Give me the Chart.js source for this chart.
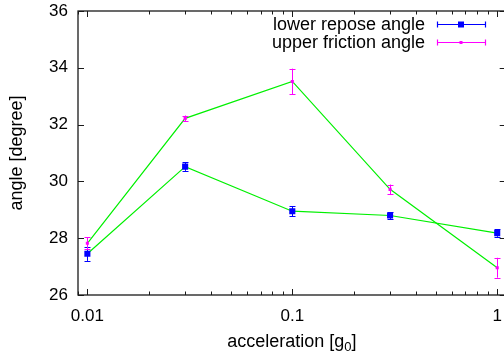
<!DOCTYPE html>
<html>
<head>
<meta charset="utf-8">
<script src="https://cdn.jsdelivr.net/npm/chart.js@4/dist/chart.umd.min.js"></script>
<style>
html,body{margin:0;padding:0;background:#fff;overflow:hidden;}
#wrap{width:510px;height:352px;}
</style>
</head>
<body>
<div id="wrap"><canvas id="c" width="510" height="352"></canvas></div>
<script>
// ---- data ----
const accel = [0.01, 0.03, 0.1, 0.3, 1];
const lowerRepose = [27.45, 30.52, 28.95, 28.8, 28.18];
const lowerReposeErr = [0.25, 0.15, 0.18, 0.12, 0.13];
const upperFriction = [27.82, 32.22, 33.52, 29.72, 26.96];
const upperFrictionErr = [0.21, 0.1, 0.45, 0.17, 0.35];
const xTickLabels = [0.01, 0.1, 1];
const yTickValues = [26, 28, 30, 32, 34, 36];
const seriesNames = ['lower repose angle', 'upper friction angle'];
const xTitle = 'acceleration [g';
const xTitleSub = '0';
const yTitle = 'angle [degree]';

const FONT = '"Liberation Sans", Arial, Helvetica, sans-serif';
const BLUE = '#0000ff', MAGENTA = '#ff00ff', GREEN = '#00f000';

const toXY = (ys) => accel.map((x, i) => ({x: x, y: ys[i]}));

const errPlugin = {
  id: 'gnu',
  beforeDatasetsDraw(chart) {
    const {ctx, chartArea: a, scales: {x, y}} = chart;
    ctx.save();
    ctx.strokeStyle = '#1a1a1a';
    ctx.lineWidth = 1.3;
    ctx.strokeRect(a.left, a.top, a.right - a.left, a.bottom - a.top);
    ctx.lineWidth = 1;
    ctx.beginPath();
    const decs = [0.001, 0.01, 0.1, 1];
    decs.forEach(d => {
      for (let k = 1; k <= 9; k++) {
        const v = d * k;
        if (v <= x.min || v >= x.max) continue;
        const px = Math.round(x.getPixelForValue(v)) + 0.5;
        const len = (k === 1) ? 6 : 3.5;
        ctx.moveTo(px, a.bottom); ctx.lineTo(px, a.bottom - len);
        ctx.moveTo(px, a.top); ctx.lineTo(px, a.top + len);
      }
    });
    yTickValues.forEach(v => {
      const py = Math.round(y.getPixelForValue(v)) + 0.5;
      ctx.moveTo(a.left, py); ctx.lineTo(a.left + 6, py);
      ctx.moveTo(a.right, py); ctx.lineTo(a.right - 6, py);
    });
    ctx.stroke();
    ctx.restore();
  },
  afterDatasetsDraw(chart) {
    const {ctx, scales: {x, y}} = chart;
    ctx.save();
    const drawErr = (vals, errs, color) => {
      ctx.strokeStyle = color;
      ctx.lineWidth = 1;
      ctx.beginPath();
      accel.forEach((xv, i) => {
        const px = Math.round(x.getPixelForValue(xv)) + 0.5;
        const y1 = y.getPixelForValue(vals[i] - errs[i]);
        const y2 = y.getPixelForValue(vals[i] + errs[i]);
        ctx.moveTo(px, y1); ctx.lineTo(px, y2);
        ctx.moveTo(px - 3, Math.round(y1) + 0.5); ctx.lineTo(px + 3, Math.round(y1) + 0.5);
        ctx.moveTo(px - 3, Math.round(y2) + 0.5); ctx.lineTo(px + 3, Math.round(y2) + 0.5);
      });
      ctx.stroke();
    };
    drawErr(lowerRepose, lowerReposeErr, BLUE);
    drawErr(upperFriction, upperFrictionErr, MAGENTA);
    ctx.restore();
  },
  afterDraw(chart) {
    const {ctx, chartArea: a} = chart;
    ctx.save();
    ctx.font = '18px ' + FONT;
    ctx.textAlign = 'right';
    ctx.textBaseline = 'middle';
    const rows = [
      {name: seriesNames[0], color: BLUE, size: 6, yy: 24},
      {name: seriesNames[1], color: MAGENTA, size: 3, yy: 42}
    ];
    rows.forEach(r => {
      ctx.fillStyle = '#000';
      ctx.fillText(r.name, 425, r.yy + 1);
      ctx.strokeStyle = r.color;
      ctx.lineWidth = 1.2;
      ctx.beginPath();
      ctx.moveTo(437, r.yy + 0.5); ctx.lineTo(485, r.yy + 0.5);
      ctx.moveTo(437.5, r.yy - 2.5); ctx.lineTo(437.5, r.yy + 3.5);
      ctx.moveTo(485.5, r.yy - 2.5); ctx.lineTo(485.5, r.yy + 3.5);
      ctx.stroke();
      ctx.fillStyle = r.color;
      ctx.fillRect(461 - r.size / 2, r.yy + 0.5 - r.size / 2, r.size, r.size);
    });
    ctx.fillStyle = '#000';
    ctx.textAlign = 'left';
    ctx.textBaseline = 'alphabetic';
    ctx.font = '18px ' + FONT;
    const w1 = ctx.measureText(xTitle).width;
    ctx.font = '13px ' + FONT;
    const w2 = ctx.measureText(xTitleSub).width;
    ctx.font = '18px ' + FONT;
    const w3 = ctx.measureText(']').width;
    const cx = (a.left + a.right) / 2;
    let sx = cx - (w1 + w2 + w3) / 2;
    const base = 347;
    ctx.fillText(xTitle, sx, base);
    ctx.font = '13px ' + FONT;
    ctx.fillText(xTitleSub, sx + w1, base + 4);
    ctx.font = '18px ' + FONT;
    ctx.fillText(']', sx + w1 + w2, base);
    ctx.translate(17, (a.top + a.bottom) / 2);
    ctx.rotate(-Math.PI / 2);
    ctx.textAlign = 'center';
    ctx.textBaseline = 'middle';
    ctx.fillText(yTitle, 0, 0);
    ctx.restore();
  }
};

new Chart(document.getElementById('c'), {
  type: 'line',
  data: {
    datasets: [
      {label: seriesNames[0] + ' line', data: toXY(lowerRepose), borderColor: GREEN, borderWidth: 1.2, pointRadius: 0, fill: false, tension: 0, order: 3},
      {label: seriesNames[1] + ' line', data: toXY(upperFriction), borderColor: GREEN, borderWidth: 1.2, pointRadius: 0, fill: false, tension: 0, order: 3},
      {label: seriesNames[0], data: toXY(lowerRepose), showLine: false, pointStyle: 'rect', pointRadius: 4.3, pointBorderWidth: 0, pointBackgroundColor: BLUE, borderColor: BLUE, order: 1},
      {label: seriesNames[1], data: toXY(upperFriction), showLine: false, pointStyle: 'rect', pointRadius: 2.2, pointBorderWidth: 0, pointBackgroundColor: MAGENTA, borderColor: MAGENTA, order: 1}
    ]
  },
  options: {
    responsive: false,
    animation: false,
    devicePixelRatio: 1,
    layout: {padding: {top: 11, right: 4, left: 0, bottom: 0}},
    plugins: {legend: {display: false}, tooltip: {enabled: false}},
    scales: {
      x: {
        type: 'logarithmic',
        min: 0.009, max: 1.1,
        grid: {display: false, drawTicks: false},
        border: {display: false},
        afterBuildTicks: (s) => { s.ticks = xTickLabels.map(v => ({value: v})); },
        afterFit: (s) => { s.height = 57; s.paddingLeft = 0; s.paddingRight = 0; },
        ticks: {
          color: '#000', font: {size: 17, family: FONT}, padding: 11,
          maxRotation: 0, autoSkip: false,
          callback: (v) => String(v)
        }
      },
      y: {
        type: 'linear',
        min: 26, max: 36,
        grid: {display: false, drawTicks: false},
        border: {display: false},
        afterBuildTicks: (s) => { s.ticks = yTickValues.map(v => ({value: v})); },
        afterFit: (s) => { s.width = 78; s.paddingTop = 0; s.paddingBottom = 0; },
        ticks: {color: '#000', font: {size: 17, family: FONT}, padding: 10}
      }
    }
  },
  plugins: [errPlugin]
});
</script>
</body>
</html>
